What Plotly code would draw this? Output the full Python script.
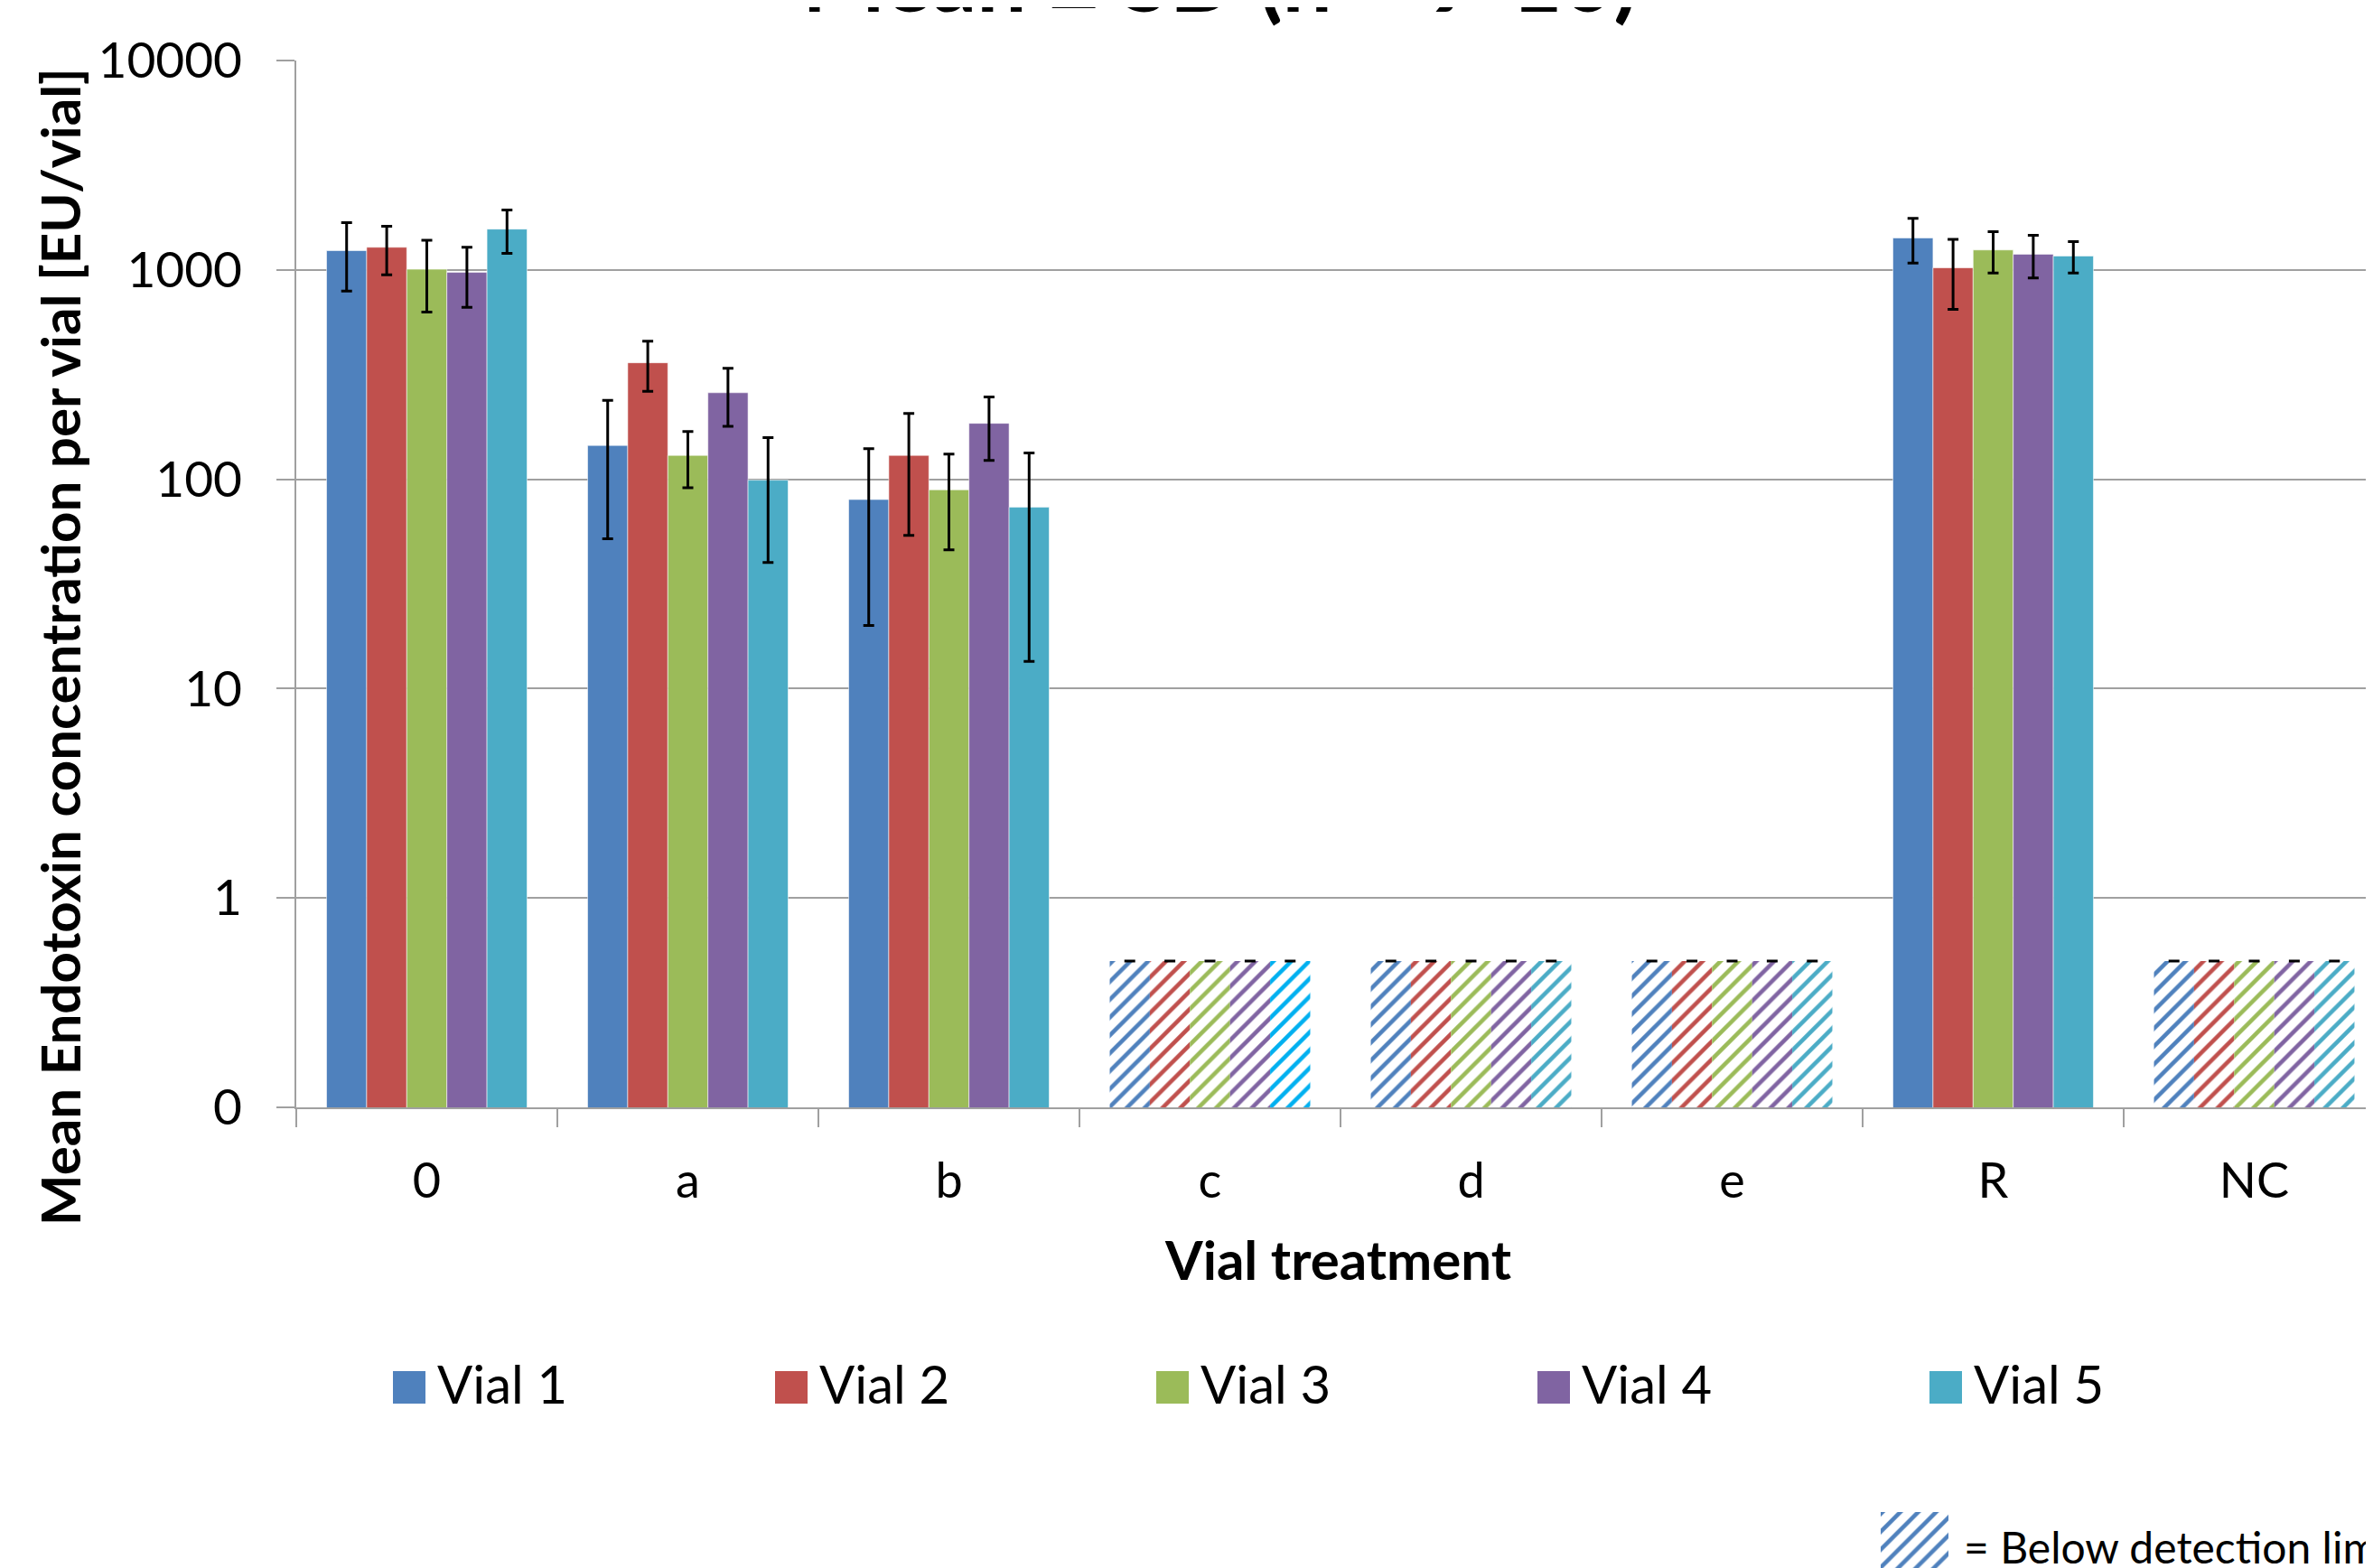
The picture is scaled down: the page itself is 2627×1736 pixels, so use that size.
import plotly.graph_objects as go

# ---------------- data ----------------
categories = ["0", "a", "b", "c", "d", "e", "R", "NC"]
series_names = ["Vial 1", "Vial 2", "Vial 3", "Vial 4", "Vial 5"]

vial1_mean = [1236, 145, 80, 0.5, 0.5, 0.5, 1421, 0.5]
vial1_sd = [444, 93, 60, 0, 0, 0, 343, 0]
vial2_mean = [1282, 360, 130, 0.5, 0.5, 0.5, 1023, 0.5]
vial2_sd = [335, 97, 76, 0, 0, 0, 375, 0]
vial3_mean = [1007, 130, 89, 0.5, 0.5, 0.5, 1245, 0.5]
vial3_sd = [378, 39, 43, 0, 0, 0, 278, 0]
vial4_mean = [973, 259, 185, 0.5, 0.5, 0.5, 1188, 0.5]
vial4_sd = [310, 80, 62, 0, 0, 0, 274, 0]
vial5_mean = [1566, 99, 73.5, 0.5, 0.5, 0.5, 1165, 0.5]
vial5_sd = [367, 59, 60, 0, 0, 0, 199, 0]

below_limit = [False, False, False, True, True, True, False, True]

y_tick_vals = [0.1, 1, 10, 100, 1000, 10000]
y_tick_text = ["0", "1", "10", "100", "1000", "10000"]

title_text = "Mean ± SD (n = 9-10)"
y_title = "Mean Endotoxin concentration per vial [EU/vial]"
x_title = "Vial treatment"
note_text = "= Below detection limit"

# ---------------- styles / layout ----------------
W, H = 2627, 1736
OFF = 8                      # page body offset
PL, PT, PB = 328, 67, 1226   # target screen px of plot area
CAT_W = 289
colors = ["#4F81BD", "#C0504D", "#9BBB59", "#8064A2", "#4BACC6"]
hatch_override = {(4, "c"): "#00B0F0"}
FONT = "Lato"
GRID = "#A0A0A0"

means = [vial1_mean, vial2_mean, vial3_mean, vial4_mean, vial5_mean]
sds = [vial1_sd, vial2_sd, vial3_sd, vial4_sd, vial5_sd]


def px_x(x):
    return (x - OFF) / W


def px_y(y):
    return 1 - (y - OFF) / H


fig = go.Figure()

for i, name in enumerate(series_names):
    shapes_pat = ["/" if b else "" for b in below_limit]
    fg = [hatch_override.get((i, c), colors[i]) for c in categories]
    bg = ["white" if b else colors[i] for b in below_limit]
    line_w = [0 if b else 1 for b in below_limit]
    fig.add_trace(go.Bar(
        x=categories, y=means[i], name=name,
        marker=dict(
            color=colors[i],
            line=dict(color="rgba(255,255,255,0.55)", width=line_w),
            pattern=dict(shape=shapes_pat, fgcolor=fg, bgcolor=bg,
                         size=14, solidity=0.33, fillmode="replace"),
        ),
        error_y=dict(type="data", array=sds[i], visible=True,
                     color="black", thickness=3, width=6),
        showlegend=False,
        xaxis="x", yaxis="y",
    ))

# hatched key box for "below detection limit" (overlay pixel axes)
bx0, bx1, by0, by1 = 2082 - OFF, 2157 - OFF, 1674 - OFF, 1749 - OFF
fig.add_trace(go.Scatter(
    x=[bx0, bx1, bx1, bx0, bx0], y=[by0, by0, by1, by1, by0],
    mode="lines", fill="toself", line=dict(width=0, color="rgba(0,0,0,0)"),
    fillcolor="white",
    fillpattern=dict(shape="/", fgcolor=colors[0], bgcolor="white",
                     fgopacity=1, size=14, solidity=0.33),
    showlegend=False, hoverinfo="skip", xaxis="x2", yaxis="y2",
))

annotations = []
shapes = []

# legend (manual, Excel-like large swatches)
legend_x = [435, 858, 1280, 1702, 2136]
for i, name in enumerate(series_names):
    x0 = legend_x[i]
    shapes.append(dict(type="rect", xref="paper", yref="paper",
                       x0=px_x(x0), x1=px_x(x0 + 36),
                       y0=px_y(1554), y1=px_y(1518),
                       fillcolor=colors[i], line=dict(width=0)))
    annotations.append(dict(text=name, xref="paper", yref="paper",
                            x=px_x(x0 + 47), y=px_y(1531),
                            xanchor="left", yanchor="middle", showarrow=False,
                            font=dict(family=FONT, size=58, color="black")))

# title (cropped at top)
annotations.append(dict(text="<b>" + title_text + "</b>", xref="paper", yref="paper",
                        x=px_x(1350), y=px_y(-25),
                        xanchor="center", yanchor="middle", showarrow=False,
                        font=dict(family=FONT, size=98, color="black")))
# y title
annotations.append(dict(text="<b>" + y_title + "</b>", xref="paper", yref="paper",
                        x=px_x(66), y=px_y(716), textangle=-90,
                        xanchor="center", yanchor="middle", showarrow=False,
                        font=dict(family=FONT, size=60, color="black")))
# x title
annotations.append(dict(text="<b>" + x_title + "</b>", xref="paper", yref="paper",
                        x=px_x(1481), y=px_y(1394),
                        xanchor="center", yanchor="middle", showarrow=False,
                        font=dict(family=FONT, size=60, color="black")))
# note
annotations.append(dict(text=note_text, xref="paper", yref="paper",
                        x=px_x(2172), y=px_y(1712),
                        xanchor="left", yanchor="middle", showarrow=False,
                        font=dict(family=FONT, size=48, color="black")))

fig.update_layout(
    width=W, height=H,
    margin=dict(l=0, r=0, t=0, b=0, pad=0, autoexpand=False),
    paper_bgcolor="white", plot_bgcolor="rgba(0,0,0,0)",
    font=dict(family=FONT, color="black"),
    barmode="group", bargap=0.232, bargroupgap=0,
    showlegend=False,
    xaxis=dict(
        domain=[(PL - OFF) / W, 1], anchor="y", automargin=False,
        type="category", categoryorder="array", categoryarray=categories,
        range=[-0.5, -0.5 + (W - (PL - OFF)) / CAT_W],
        showgrid=False, showline=True, linecolor=GRID, linewidth=2,
        ticks="outside", tickson="boundaries", ticklen=20, tickwidth=2, tickcolor=GRID,
        tickfont=dict(family=FONT, size=54, color="black"),
        ticklabelstandoff=33,
        zeroline=False,
    ),
    yaxis=dict(
        domain=[1 - (PB - OFF) / H, 1 - (PT - OFF) / H], anchor="x", automargin=False,
        type="log", range=[-1, 4],
        tickvals=y_tick_vals, ticktext=y_tick_text,
        showgrid=True, gridcolor=GRID, gridwidth=2,
        showline=True, linecolor=GRID, linewidth=2,
        ticks="outside", ticklen=20, tickwidth=2, tickcolor=GRID,
        tickfont=dict(family=FONT, size=55, color="black"),
        ticklabelstandoff=27,
        zeroline=False,
    ),
    xaxis2=dict(domain=[0, 1], anchor="y2", range=[0, W], visible=False,
                showgrid=False, zeroline=False, fixedrange=True),
    yaxis2=dict(domain=[0, 1], anchor="x2", range=[H, 0], visible=False,
                showgrid=False, zeroline=False, fixedrange=True),
    annotations=annotations,
    shapes=shapes,
)

fig.write_html("out.html")
